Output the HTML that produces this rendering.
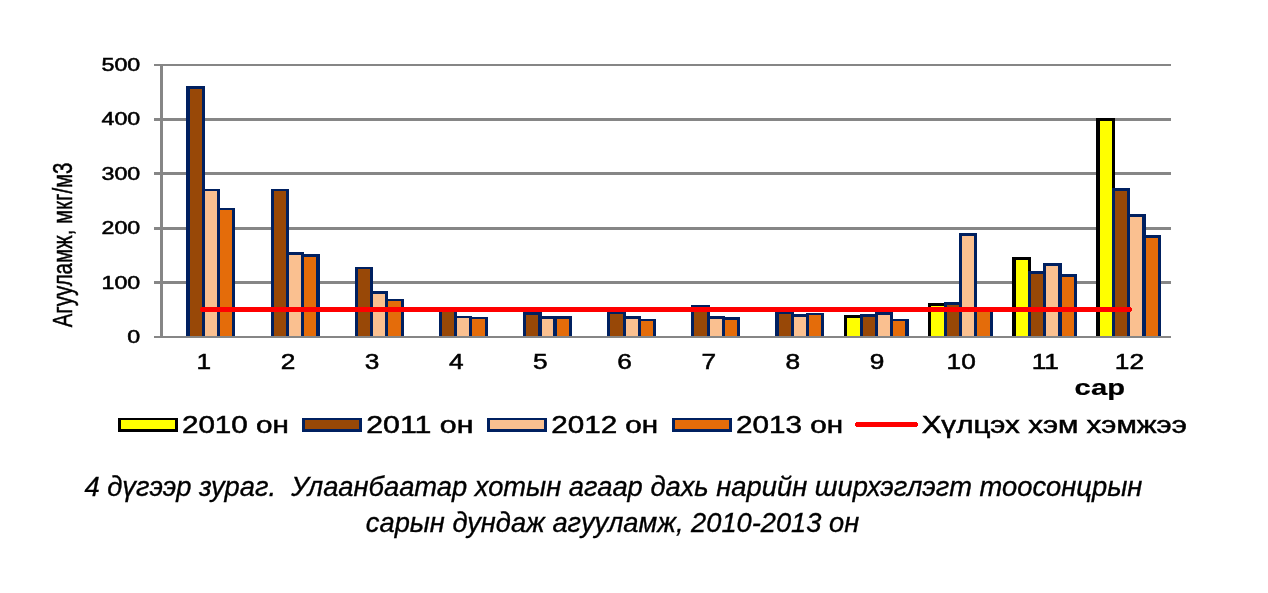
<!DOCTYPE html>
<html lang="mn"><head><meta charset="utf-8"><title>4 дүгээр зураг</title>
<style>html,body{margin:0;padding:0;background:#fff}body{width:1268px;height:593px;overflow:hidden}svg{display:block}</style>
</head><body>
<svg width="1268" height="593" viewBox="0 0 1268 593" font-family='"Liberation Sans", sans-serif' fill="#000" stroke="#000" stroke-width="0">
<rect width="1268" height="593" fill="#fff" stroke="none"/>
<g shape-rendering="crispEdges" stroke="none">
<rect x="154" y="64" width="1017" height="2" fill="#868686"/>
<rect x="154" y="118" width="1017" height="3" fill="#868686"/>
<rect x="154" y="172" width="1017" height="3" fill="#868686"/>
<rect x="154" y="227" width="1017" height="3" fill="#868686"/>
<rect x="154" y="281" width="1017" height="3" fill="#868686"/>
<rect x="186" y="86" width="19" height="250" fill="#002060"/><rect x="190" y="89" width="12" height="247" fill="#984807"/>
<rect x="202" y="189" width="18" height="147" fill="#002060"/><rect x="205" y="191" width="12" height="145" fill="#FAC090"/>
<rect x="217" y="208" width="18" height="128" fill="#002060"/><rect x="220" y="210" width="12" height="126" fill="#E46C0A"/>
<rect x="271" y="189" width="18" height="147" fill="#002060"/><rect x="274" y="191" width="12" height="145" fill="#984807"/>
<rect x="286" y="252" width="18" height="84" fill="#002060"/><rect x="289" y="255" width="12" height="81" fill="#FAC090"/>
<rect x="301" y="254" width="19" height="82" fill="#002060"/><rect x="304" y="257" width="12" height="79" fill="#E46C0A"/>
<rect x="355" y="267" width="18" height="69" fill="#002060"/><rect x="358" y="269" width="12" height="67" fill="#984807"/>
<rect x="370" y="291" width="18" height="45" fill="#002060"/><rect x="373" y="294" width="12" height="42" fill="#FAC090"/>
<rect x="385" y="299" width="19" height="37" fill="#002060"/><rect x="388" y="301" width="13" height="35" fill="#E46C0A"/>
<rect x="439" y="309" width="18" height="27" fill="#002060"/><rect x="442" y="312" width="12" height="24" fill="#984807"/>
<rect x="454" y="316" width="18" height="20" fill="#002060"/><rect x="457" y="318" width="12" height="18" fill="#FAC090"/>
<rect x="469" y="317" width="19" height="19" fill="#002060"/><rect x="472" y="319" width="13" height="17" fill="#E46C0A"/>
<rect x="523" y="312" width="19" height="24" fill="#002060"/><rect x="526" y="315" width="12" height="21" fill="#984807"/>
<rect x="538" y="316" width="19" height="20" fill="#002060"/><rect x="542" y="319" width="11" height="17" fill="#FAC090"/>
<rect x="553" y="316" width="19" height="20" fill="#002060"/><rect x="557" y="319" width="12" height="17" fill="#E46C0A"/>
<rect x="607" y="311" width="19" height="25" fill="#002060"/><rect x="610" y="314" width="13" height="22" fill="#984807"/>
<rect x="623" y="316" width="18" height="20" fill="#002060"/><rect x="626" y="319" width="12" height="17" fill="#FAC090"/>
<rect x="638" y="319" width="18" height="17" fill="#002060"/><rect x="641" y="321" width="12" height="15" fill="#E46C0A"/>
<rect x="691" y="305" width="19" height="31" fill="#002060"/><rect x="694" y="308" width="13" height="28" fill="#984807"/>
<rect x="707" y="316" width="18" height="20" fill="#002060"/><rect x="710" y="319" width="12" height="17" fill="#FAC090"/>
<rect x="722" y="317" width="18" height="19" fill="#002060"/><rect x="725" y="320" width="12" height="16" fill="#E46C0A"/>
<rect x="775" y="311" width="19" height="25" fill="#002060"/><rect x="779" y="314" width="12" height="22" fill="#984807"/>
<rect x="791" y="314" width="18" height="22" fill="#002060"/><rect x="794" y="317" width="12" height="19" fill="#FAC090"/>
<rect x="806" y="313" width="18" height="23" fill="#002060"/><rect x="809" y="315" width="12" height="21" fill="#E46C0A"/>
<rect x="844" y="315" width="19" height="21" fill="#000000"/><rect x="847" y="318" width="13" height="18" fill="#FFFF00"/>
<rect x="860" y="314" width="18" height="22" fill="#002060"/><rect x="863" y="317" width="12" height="19" fill="#984807"/>
<rect x="875" y="312" width="18" height="24" fill="#002060"/><rect x="878" y="315" width="12" height="21" fill="#FAC090"/>
<rect x="890" y="319" width="19" height="17" fill="#002060"/><rect x="893" y="321" width="12" height="15" fill="#E46C0A"/>
<rect x="928" y="303" width="19" height="33" fill="#000000"/><rect x="931" y="306" width="13" height="30" fill="#FFFF00"/>
<rect x="944" y="302" width="18" height="34" fill="#002060"/><rect x="947" y="305" width="12" height="31" fill="#984807"/>
<rect x="959" y="233" width="18" height="103" fill="#002060"/><rect x="962" y="236" width="12" height="100" fill="#FAC090"/>
<rect x="974" y="308" width="19" height="28" fill="#002060"/><rect x="977" y="311" width="13" height="25" fill="#E46C0A"/>
<rect x="1012" y="257" width="19" height="79" fill="#000000"/><rect x="1016" y="260" width="12" height="76" fill="#FFFF00"/>
<rect x="1028" y="271" width="18" height="65" fill="#002060"/><rect x="1031" y="274" width="12" height="62" fill="#984807"/>
<rect x="1043" y="263" width="19" height="73" fill="#002060"/><rect x="1046" y="266" width="12" height="70" fill="#FAC090"/>
<rect x="1058" y="274" width="19" height="62" fill="#002060"/><rect x="1062" y="277" width="12" height="59" fill="#E46C0A"/>
<rect x="1096" y="118" width="19" height="218" fill="#000000"/><rect x="1100" y="121" width="12" height="215" fill="#FFFF00"/>
<rect x="1112" y="188" width="18" height="148" fill="#002060"/><rect x="1115" y="191" width="12" height="145" fill="#984807"/>
<rect x="1127" y="214" width="19" height="122" fill="#002060"/><rect x="1130" y="217" width="12" height="119" fill="#FAC090"/>
<rect x="1142" y="235" width="19" height="101" fill="#002060"/><rect x="1146" y="238" width="12" height="98" fill="#E46C0A"/>
<rect x="154" y="336" width="1017" height="2" fill="#868686"/>
<rect x="160" y="64" width="3" height="274" fill="#868686"/>
<rect x="201" y="307" width="930" height="5" fill="#FF0000"/><rect x="200" y="308" width="932" height="3" fill="#FF0000"/>
<rect x="118" y="418" width="60" height="14" fill="#000000"/><rect x="121" y="420" width="54" height="9" fill="#FFFF00"/>
<rect x="302" y="418" width="60" height="14" fill="#002060"/><rect x="305" y="420" width="54" height="9" fill="#984807"/>
<rect x="487" y="418" width="60" height="14" fill="#002060"/><rect x="490" y="420" width="54" height="9" fill="#FAC090"/>
<rect x="672" y="418" width="60" height="14" fill="#002060"/><rect x="675" y="420" width="54" height="9" fill="#E46C0A"/>
<rect x="856" y="422" width="61" height="5" fill="#FF0000"/><rect x="855" y="423" width="63" height="3" fill="#FF0000"/>
</g>
<text transform="translate(127.37,343.00) scale(1.3285,1)" font-size="17.47" font-weight="normal" font-style="normal" text-anchor="start" stroke-width="0.5">0</text>
<text transform="translate(101.54,289.00) scale(1.3285,1)" font-size="17.47" font-weight="normal" font-style="normal" text-anchor="start" stroke-width="0.5">100</text>
<text transform="translate(101.54,234.00) scale(1.3285,1)" font-size="17.47" font-weight="normal" font-style="normal" text-anchor="start" stroke-width="0.5">200</text>
<text transform="translate(101.54,180.00) scale(1.3285,1)" font-size="17.47" font-weight="normal" font-style="normal" text-anchor="start" stroke-width="0.5">300</text>
<text transform="translate(101.54,125.00) scale(1.3285,1)" font-size="17.47" font-weight="normal" font-style="normal" text-anchor="start" stroke-width="0.5">400</text>
<text transform="translate(101.54,71.00) scale(1.3285,1)" font-size="17.47" font-weight="normal" font-style="normal" text-anchor="start" stroke-width="0.5">500</text>
<text transform="translate(203.77,369.00) scale(1.2353,1)" font-size="21.24" font-weight="normal" font-style="normal" text-anchor="middle" stroke-width="0.5">1</text>
<text transform="translate(287.93,369.00) scale(1.2353,1)" font-size="21.24" font-weight="normal" font-style="normal" text-anchor="middle" stroke-width="0.5">2</text>
<text transform="translate(372.07,369.00) scale(1.2353,1)" font-size="21.24" font-weight="normal" font-style="normal" text-anchor="middle" stroke-width="0.5">3</text>
<text transform="translate(456.23,369.00) scale(1.2353,1)" font-size="21.24" font-weight="normal" font-style="normal" text-anchor="middle" stroke-width="0.5">4</text>
<text transform="translate(540.38,369.00) scale(1.2353,1)" font-size="21.24" font-weight="normal" font-style="normal" text-anchor="middle" stroke-width="0.5">5</text>
<text transform="translate(624.53,369.00) scale(1.2353,1)" font-size="21.24" font-weight="normal" font-style="normal" text-anchor="middle" stroke-width="0.5">6</text>
<text transform="translate(708.68,369.00) scale(1.2353,1)" font-size="21.24" font-weight="normal" font-style="normal" text-anchor="middle" stroke-width="0.5">7</text>
<text transform="translate(792.83,369.00) scale(1.2353,1)" font-size="21.24" font-weight="normal" font-style="normal" text-anchor="middle" stroke-width="0.5">8</text>
<text transform="translate(876.98,369.00) scale(1.2353,1)" font-size="21.24" font-weight="normal" font-style="normal" text-anchor="middle" stroke-width="0.5">9</text>
<text transform="translate(961.13,369.00) scale(1.2353,1)" font-size="21.24" font-weight="normal" font-style="normal" text-anchor="middle" stroke-width="0.5">10</text>
<text transform="translate(1045.28,369.00) scale(1.2353,1)" font-size="21.24" font-weight="normal" font-style="normal" text-anchor="middle" stroke-width="0.5">11</text>
<text transform="translate(1129.42,369.00) scale(1.2353,1)" font-size="21.24" font-weight="normal" font-style="normal" text-anchor="middle" stroke-width="0.5">12</text>
<text transform="translate(1074.39,395.00) scale(1.2953,1)" font-size="22.54" font-weight="bold" font-style="normal" text-anchor="start" stroke-width="0.2">сар</text>
<text transform="translate(181.91,433.00) scale(1.2717,1)" font-size="23.32" font-weight="normal" font-style="normal" text-anchor="start" stroke-width="0.5">2010 он</text>
<text transform="translate(366.28,433.00) scale(1.2993,1)" font-size="23.32" font-weight="normal" font-style="normal" text-anchor="start" stroke-width="0.5">2011 он</text>
<text transform="translate(551.21,433.00) scale(1.2717,1)" font-size="23.32" font-weight="normal" font-style="normal" text-anchor="start" stroke-width="0.5">2012 он</text>
<text transform="translate(736.11,433.00) scale(1.2717,1)" font-size="23.32" font-weight="normal" font-style="normal" text-anchor="start" stroke-width="0.5">2013 он</text>
<text transform="translate(921.64,433.00) scale(1.2695,1)" font-size="23.32" font-weight="normal" font-style="normal" text-anchor="start" stroke-width="0.5">Хүлцэх хэм хэмжээ</text>
<text transform="translate(71.60,327.30) rotate(-90) scale(0.7287,1)" x="0.00" font-size="28.02" stroke-width="0.5">Агууламж, мкг/м3</text>
<text xml:space="preserve" transform="translate(84.40,496.00) scale(0.9617,1)" font-size="28.43" font-weight="normal" font-style="italic" text-anchor="start" stroke-width="0.35">4 дүгээр зураг.  Улаанбаатар хотын агаар дахь нарийн ширхэглэгт тоосонцрын</text><text transform="translate(365.85,532.00) scale(0.9593,1)" font-size="28.43" font-weight="normal" font-style="italic" text-anchor="start" stroke-width="0.35">сарын дундаж агууламж, 2010-2013 он</text>
</svg>
</body></html>
